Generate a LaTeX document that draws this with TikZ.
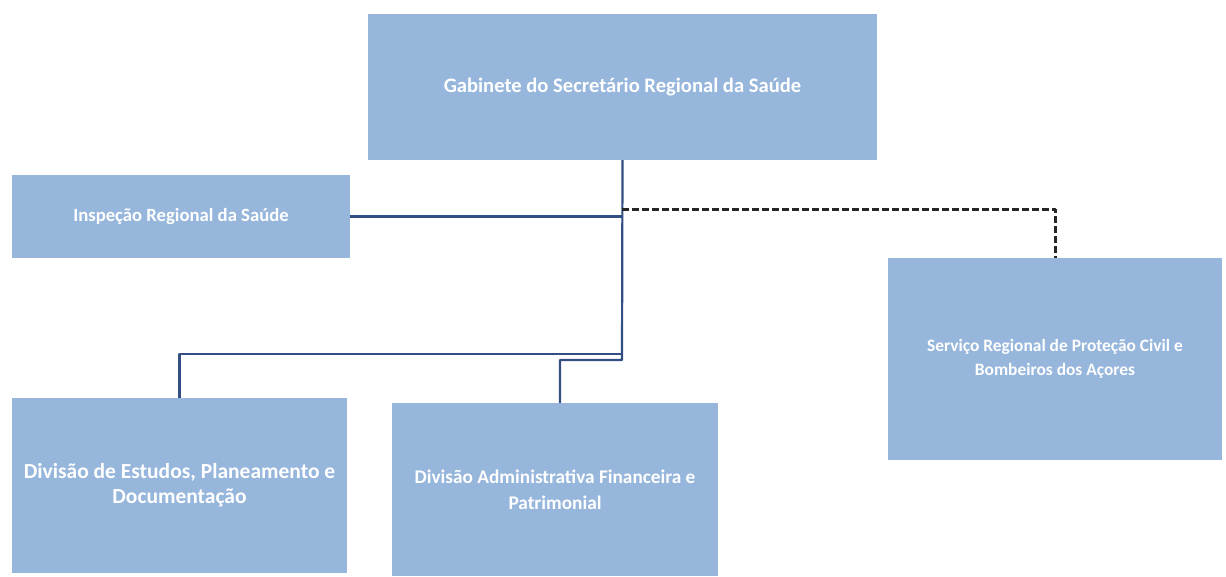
\documentclass[tikz,border=0pt]{standalone}
\usepackage{fontspec}
\setmainfont{Carlito}
\definecolor{boxblue}{RGB}{150,182,220}
\definecolor{linenavy}{RGB}{50,78,130}
\tikzset{
  unit/.style={rectangle, fill=boxblue, text=white, align=center, font=\bfseries, inner sep=0pt},
  orgline/.style={draw=linenavy, line width=2.2pt},
  dashline/.style={draw=black!85, line width=3pt, dash pattern=on 7pt off 3pt}
}
\begin{document}
\begin{tikzpicture}[x=1pt,y=-1pt,line join = round]
			\useasboundingbox (0,0) rectangle (1226,576);
			\node[unit, minimum width=509pt, minimum height=146pt, font=\bfseries\fontsize{20.6}{24}\selectfont] (gab) at (622.5,87) {Gabinete do Secretário Regional da Saúde};
			\node[unit, minimum width=338pt, minimum height=83pt, font=\bfseries\fontsize{18.7}{22}\selectfont] (ins) at (181,216.5) {Inspeção Regional da Saúde};
			\node[unit, minimum width=334pt, minimum height=202pt, font=\bfseries\fontsize{17.4}{24}\selectfont] (srp) at (1055,359) {Serviço Regional de Proteção Civil e\\Bombeiros dos Açores};
			\node[unit, minimum width=335pt, minimum height=175pt, font=\bfseries\fontsize{21.5}{25}\selectfont] (dep) at (179.5,485.5) {Divisão de Estudos, Planeamento e\\Documentação};
			\node[unit, minimum width=326pt, minimum height=173pt, font=\bfseries\fontsize{19.3}{26}\selectfont] (daf) at (555,489.5) {Divisão Administrativa Financeira e\\Patrimonial};
			\coordinate (T) at (622,354);
			\coordinate (B) at (622,360);
			\coordinate (D) at (560,360);
			\coordinate (S) at (622,209);
			\draw[orgline] (gab.south)--(B)--(D)--(D |- daf.north);
			\draw[orgline] (T)--(T -| dep.north)--(dep.north);
			\draw[orgline] (ins.east)--(ins.east -| gab.south);
			\draw[dashline] (S)--(S -| srp.north)--(srp.north);
		\end{tikzpicture}
\end{document}
